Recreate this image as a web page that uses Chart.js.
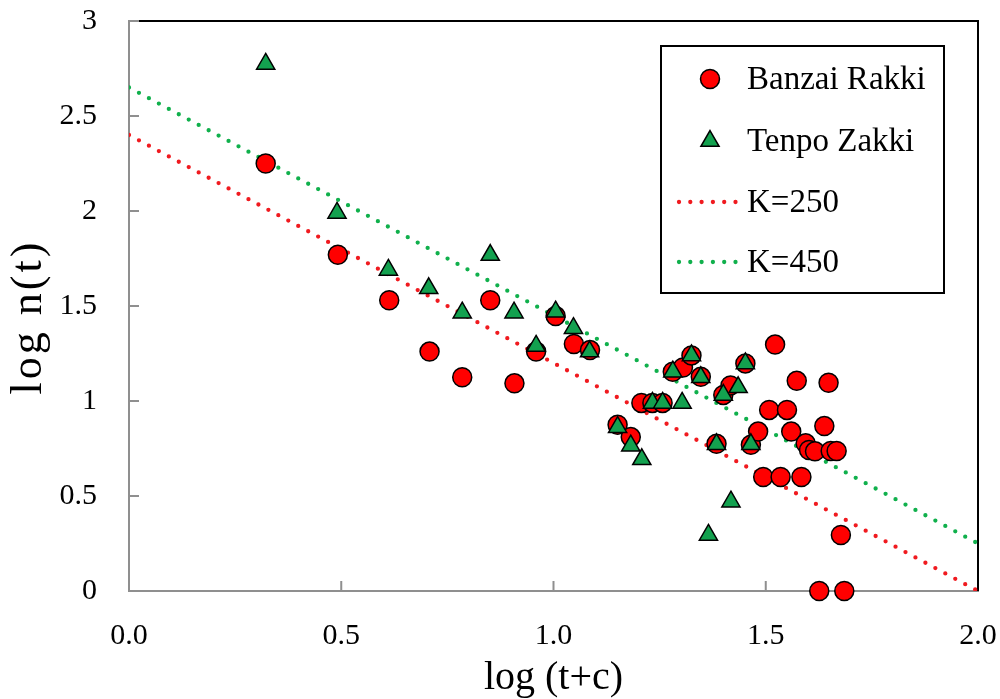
<!DOCTYPE html>
<html>
<head>
<meta charset="utf-8">
<script src="https://cdn.jsdelivr.net/npm/chart.js@4.4.1/dist/chart.umd.min.js"></script>
<style>
  html, body { margin: 0; padding: 0; background: #fff; }
  #wrap { width: 1000px; height: 699px; position: relative; }
</style>
</head>
<body>
<div id="wrap"><canvas id="decayChart"></canvas></div>
<script>
// values
const banzaiX = [0.322, 0.492, 0.613, 0.708, 0.785, 0.851, 0.908, 0.959, 1.005, 1.048,
  1.086, 1.151, 1.182, 1.207, 1.233, 1.257, 1.281, 1.305, 1.325, 1.347,
  1.384, 1.400, 1.417, 1.452, 1.465, 1.482, 1.494, 1.508, 1.522, 1.535,
  1.550, 1.560, 1.573, 1.584, 1.594, 1.602, 1.616, 1.626, 1.638, 1.648,
  1.653, 1.667, 1.677, 1.685];
const banzaiY = [2.25, 1.77, 1.53, 1.26, 1.125, 1.53, 1.093, 1.26, 1.447, 1.30,
  1.268, 0.875, 0.81, 0.99, 0.99, 0.99, 1.154, 1.176, 1.24, 1.127,
  0.775, 1.032, 1.082, 1.198, 0.77, 0.839, 0.60, 0.953, 1.297, 0.60,
  0.953, 0.839, 1.106, 0.60, 0.777, 0.742, 0.735, 0, 0.868, 1.096,
  0.737, 0.737, 0.295, 0];

const tenpoX = [0.322, 0.490, 0.611, 0.706, 0.785, 0.851, 0.907, 0.959, 1.005, 1.047,
  1.085, 1.151, 1.182, 1.208, 1.233, 1.257, 1.281, 1.303, 1.325, 1.347,
  1.365, 1.384, 1.400, 1.418, 1.435, 1.452, 1.465];
const tenpoY = [2.774, 1.99, 1.69, 1.593, 1.465, 1.768, 1.465, 1.29, 1.47, 1.383,
  1.26, 0.862, 0.765, 0.693, 0.99, 0.99, 1.154, 0.99, 1.24, 1.125,
  0.295, 0.772, 1.032, 0.47, 1.072, 1.198, 0.772];

// model lines (end points)
const lineX = [0, 2];
const k250Y = [2.40, 0.00];
const k450Y = [2.65, 0.25];

const xTickValues = [0, 0.5, 1, 1.5, 2];
const xTickLabels = ['0.0', '0.5', '1.0', '1.5', '2.0'];
const yTickValues = [0, 0.5, 1, 1.5, 2, 2.5, 3];
const yTickLabels = ['0', '0.5', '1', '1.5', '2', '2.5', '3'];

const seriesNames = ['Banzai Rakki', 'Tenpo Zakki', 'K=250', 'K=450'];
const xTitle = 'log (t+c)';
const yTitle = 'log n(t)';

const toPoints = (xs, ys) => xs.map((x, i) => ({ x, y: ys[i] }));

const serif = "'Liberation Serif', 'Times New Roman', serif";
const colors = {
  red: '#ff0000',
  green: '#13a14f',
  redDots: '#f01a1f',
  greenDots: '#10b04c',
  axis: '#8f8f8f',
};

Chart.defaults.font.family = serif;
Chart.defaults.color = '#000';

const dotted = {
  showLine: true,
  pointRadius: 0,
  pointHoverRadius: 0,
  borderWidth: 4.3,
  borderCapStyle: 'round',
  borderDash: [0, 11.3],
  fill: false,
};

// legend box drawn inside plot area
const boxLegend = {
  id: 'boxLegend',
  afterDraw(chart) {
    const ctx = chart.ctx;
    const rows = [79, 141, 202, 262];
    ctx.save();
    ctx.strokeStyle = '#000';
    ctx.lineWidth = 2;
    ctx.fillStyle = '#fff';
    ctx.fillRect(661, 46, 283, 247);
    ctx.strokeRect(661, 46, 283, 247);
    chart.data.datasets.forEach((ds, i) => {
      const y = rows[i];
      if (ds.showLine) {
        ctx.save();
        ctx.strokeStyle = ds.borderColor;
        ctx.lineWidth = ds.borderWidth;
        ctx.lineCap = 'round';
        ctx.setLineDash(ds.borderDash);
        ctx.beginPath();
        ctx.moveTo(679, y);
        ctx.lineTo(738, y);
        ctx.stroke();
        ctx.restore();
      } else {
        ctx.save();
        ctx.fillStyle = ds.backgroundColor;
        ctx.strokeStyle = ds.borderColor;
        ctx.lineWidth = ds.borderWidth;
        Chart.helpers.drawPoint(ctx, { pointStyle: ds.pointStyle, radius: ds.pointRadius, borderWidth: ds.borderWidth }, 710, y);
        ctx.restore();
      }
      ctx.fillStyle = '#000';
      ctx.font = '33px ' + serif;
      ctx.textBaseline = 'middle';
      ctx.textAlign = 'left';
      ctx.fillText(ds.label, 747, y + 1);
    });
    ctx.restore();
  },
};

// inward tick marks, dark top/right frame and the y title
const frame = {
  id: 'frame',
  beforeDatasetsDraw(chart) {
    const { ctx, chartArea: a, scales } = chart;
    ctx.save();
    ctx.strokeStyle = colors.axis;
    ctx.lineWidth = 2;
    ctx.beginPath();
    scales.x.ticks.forEach((t) => {
      const px = scales.x.getPixelForValue(t.value);
      ctx.moveTo(px, a.bottom);
      ctx.lineTo(px, a.bottom - 10);
    });
    scales.y.ticks.forEach((t) => {
      const py = scales.y.getPixelForValue(t.value);
      ctx.moveTo(a.left, py);
      ctx.lineTo(a.left + 10, py);
    });
    ctx.stroke();
    ctx.strokeStyle = '#000';
    ctx.beginPath();
    ctx.moveTo(a.left + 10, a.top);
    ctx.lineTo(a.right, a.top);
    ctx.lineTo(a.right, a.bottom);
    ctx.stroke();

    ctx.translate(29, 317);
    ctx.rotate(-Math.PI / 2);
    ctx.fillStyle = '#000';
    ctx.font = '44px ' + serif;
    if ('letterSpacing' in ctx) ctx.letterSpacing = '3px';
    ctx.textAlign = 'center';
    ctx.textBaseline = 'middle';
    ctx.fillText(yTitle, 0, 0);
    ctx.restore();
  },
};

const noOverflow = (scale) => {
  scale.paddingLeft = 0;
  scale.paddingRight = 0;
  scale.paddingTop = 0;
  scale.paddingBottom = 0;
};

new Chart(document.getElementById('decayChart'), {
  type: 'scatter',
  data: {
    datasets: [
      {
        label: seriesNames[0],
        data: toPoints(banzaiX, banzaiY),
        pointStyle: 'circle',
        pointRadius: 9.5,
        backgroundColor: colors.red,
        borderColor: '#000',
        borderWidth: 1.5,
        clip: false,
        order: 1,
      },
      {
        label: seriesNames[1],
        data: toPoints(tenpoX, tenpoY),
        pointStyle: 'triangle',
        pointRadius: 10.5,
        backgroundColor: colors.green,
        borderColor: '#000',
        borderWidth: 1.5,
        clip: false,
        order: 0,
      },
      Object.assign({
        label: seriesNames[2],
        data: toPoints(lineX, k250Y),
        borderColor: colors.redDots,
        order: 2,
      }, dotted),
      Object.assign({
        label: seriesNames[3],
        data: toPoints(lineX, k450Y),
        borderColor: colors.greenDots,
        order: 3,
      }, dotted),
    ],
  },
  options: {
    responsive: true,
    maintainAspectRatio: false,
    animation: false,
    events: [],
    layout: { padding: { top: 21, right: 22, left: 0, bottom: 0 } },
    scales: {
      x: {
        type: 'linear',
        min: 0,
        max: 2,
        afterBuildTicks(scale) {
          scale.ticks = xTickValues.map((v) => ({ value: v }));
        },
        afterFit(scale) {
          scale.height = 108;
          noOverflow(scale);
        },
        grid: { display: false, drawTicks: false },
        border: { display: true, color: colors.axis, width: 2 },
        ticks: {
          padding: 27,
          font: { size: 30 },
          color: '#000',
          maxRotation: 0,
          callback: (value, index) => xTickLabels[index],
        },
        title: {
          display: true,
          text: xTitle,
          font: { size: 40, lineHeight: 1 },
          padding: { top: 0, bottom: 1 },
          color: '#000',
        },
      },
      y: {
        type: 'linear',
        min: 0,
        max: 3,
        afterBuildTicks(scale) {
          scale.ticks = yTickValues.map((v) => ({ value: v }));
        },
        afterFit(scale) {
          scale.width = 129;
          noOverflow(scale);
        },
        grid: { display: false, drawTicks: false },
        border: { display: true, color: colors.axis, width: 2 },
        ticks: {
          padding: 32,
          font: { size: 30 },
          color: '#000',
          callback: (value, index) => yTickLabels[index],
        },
      },
    },
    plugins: {
      legend: { display: false },
      tooltip: { enabled: false },
    },
  },
  plugins: [frame, boxLegend],
});
</script>
</body>
</html>
